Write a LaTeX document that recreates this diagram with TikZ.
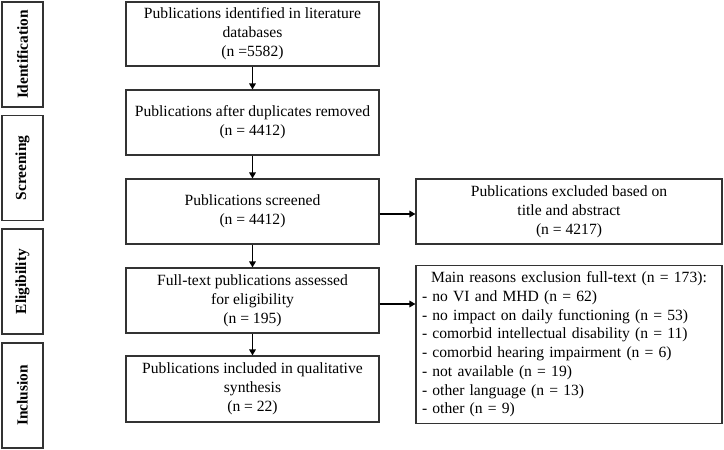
\documentclass[tikz,border=0pt]{standalone}
\usepackage{fontspec}
\setmainfont{Liberation Serif}
\usetikzlibrary{arrows.meta}
\tikzset{
  box/.style={draw=black!80, line width=1.1pt, rectangle, align=center, inner sep=2pt,
    font=\fontsize{15.6}{19}\selectfont},
  phase/.style={draw=black!80, line width=1.3pt, rectangle, minimum width=41pt, minimum height=105pt,
    inner sep=0pt},
  phaselbl/.style={rotate=90, font=\fontsize{15.4}{17}\selectfont\bfseries},
  flow/.style={line width=1.8pt, -{Triangle[length=6pt,width=6.5pt]}}
}
\begin{document}
\begin{tikzpicture}[x=1pt,y=-1pt]
\useasboundingbox (0,0) rectangle (724,450);
% phase boxes
\node[phase] (p1) at (22.5,54.5) {};
\node[phaselbl] (p1t) at (p1.center) {Identification};
\node[phase] (p2) at (22.5,168) {};
\node[phaselbl] (p2t) at (p2.center) {Screening};
\node[phase] (p3) at (22.5,281.5) {};
\node[phaselbl] (p3t) at (p3.center) {Eligibility};
\node[phase] (p4) at (22.5,395.5) {};
\node[phaselbl] (p4t) at (p4.center) {Inclusion};
% main boxes
\node[box, minimum width=253pt, minimum height=64pt] (b1) at (252.5,34) {Publications identified in literature\\databases\\(n =5582)};
\node[box, minimum width=253pt, minimum height=65pt] (b2) at (252.5,122.5) {Publications after duplicates removed\\(n = 4412)};
\node[box, minimum width=253pt, minimum height=65pt] (b3) at (252.5,211.5) {Publications screened\\(n = 4412)};
\node[box, minimum width=253pt, minimum height=65pt] (b4) at (252.5,300.5) {Full-text publications assessed\\for eligibility\\(n = 195)};
\node[box, minimum width=253pt, minimum height=66pt] (b5) at (252.5,389) {Publications included in qualitative\\synthesis\\(n = 22)};
% right boxes
\node[box, minimum width=306pt, minimum height=65pt] (r1) at (569,211.5) {Publications excluded based on\\title and abstract\\(n = 4217)};
\node[box, minimum width=306pt, minimum height=153pt, text width=294pt, align=left, inner sep=6pt, font=\fontsize{15.6}{18.7}\selectfont] (r2) at (569,344.5) {\makebox[294pt]{Main reasons exclusion full-text (n = 173):}\\
- no VI and MHD (n = 62)\\
- no impact on daily functioning (n = 53)\\
- comorbid intellectual disability (n = 11)\\
- comorbid hearing impairment (n = 6)\\
- not available (n = 19)\\
- other language (n = 13)\\
- other (n = 9)};
% arrows
\draw[flow] (b1) -- (b2);
\draw[flow] (b2) -- (b3);
\draw[flow] (b3) -- (b4);
\draw[flow] (b4) -- (b5);
\draw[flow] (b3.east |- 0,214) -- (r1.west |- 0,214);
\draw[flow] (b4.east |- 0,304) -- (r2.west |- 0,304);
\end{tikzpicture}
\end{document}
